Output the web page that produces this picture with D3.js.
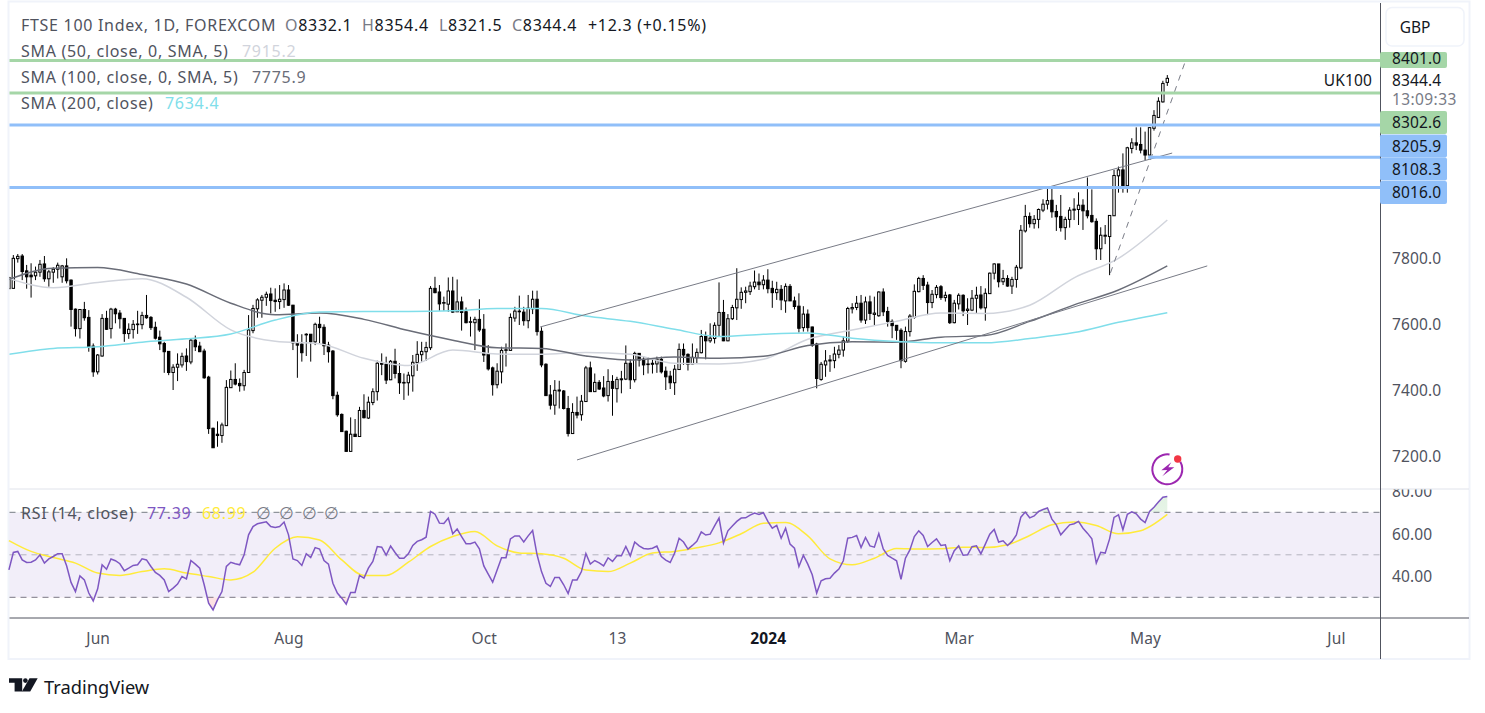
<!DOCTYPE html>
<html>
<head>
<meta charset="utf-8">
<script src="https://cdn.jsdelivr.net/npm/d3@7"></script>
<style>
  html, body { margin: 0; padding: 0; background: #fff; overflow: hidden; }
  svg { display: block; }
  text { font-family: "Noto Sans", sans-serif; }
  .legend { font-size: 16px; letter-spacing: 0.7px; }
  .axis-label { font-size: 15.5px; letter-spacing: 0.15px; }
</style>
</head>
<body>
<svg id="chart" width="1485" height="713"></svg>
<script>
// Daily candles, first one is cut by the left edge of the pane
const opens = [7707,
  7708,7798,7806,7761,7748,7746,7757,7782,7737,7757,7766,7743,7776,7733,7645,7586,7644,7620,7533,7455,
  7503,7617,7586,7645,7633,7617,7571,7583,7598,7598,7626,7620,7590,7560,7541,7517,7453,7469,7476,7503,
  7485,7551,7533,7518,7439,7284,7266,7262,7292,7407,7432,7420,7413,7453,7580,7646,7672,7681,7691,7672,
  7668,7674,7703,7657,7544,7539,7567,7569,7546,7599,7590,7536,7518,7384,7326,7275,7214,7266,7259,7338,
  7315,7362,7395,7481,7478,7431,7487,7450,
  7421,7422,7443,7483,7507,7516,7528,7708,7697,7663,7660,7700,7637,7667,7637,7605,7604,7614,7584,7508,
  7467,7416,7455,7520,7520,7618,7637,7636,7610,7646,7675,7578,7478,7385,7354,7397,7397,7344,7268,7332,
  7325,7365,7467,7395,7423,7406,7383,7426,7404,7431,7433,7481,7431,7511,7493,7477,7481,7479,7493,7457,
  7442,7422,7462,7523,7508,7479,7498,7513,7563,7549,7556,7596,7635,7549,7616,7649,7674,7696,7698,7713,
  7727,7719,7733,7708,7695,7705,7670,7714,7670,7654,
  7589,7630,7591,7539,7432,7476,7488,7489,7508,7521,7548,7646,7650,7663,7612,7667,7629,7625,7697,7638,
  7608,7596,7581,7487,7577,7620,7698,7738,7718,7665,7689,7713,7680,7688,7604,7661,7687,7641,7642,7678,
  7688,7649,7692,7754,7782,7728,7738,7715,7735,7770,7882,7926,7904,7917,7945,7963,7975,7941,7926,7892,
  7917,7945,7947,7960,7943,7929,7911,7828,7866,7865,
  7928,8049,8067,8019,8132,8149,8144,8127,8112,8193,8226,8273,8332.1];
const highs = [7743,
  7809,7812,7812,7779,7784,7774,7794,7806,7764,7772,7786,7779,7799,7735,7647,7645,7667,7642,7541,7509,
  7630,7640,7649,7649,7642,7618,7602,7612,7640,7637,7688,7624,7607,7580,7546,7518,7478,7511,7513,7526,
  7557,7565,7546,7525,7443,7286,7305,7301,7430,7459,7481,7435,7461,7627,7658,7678,7688,7698,7710,7708,
  7718,7723,7718,7658,7569,7569,7572,7569,7604,7622,7599,7546,7521,7395,7329,7277,7317,7312,7349,7387,
  7380,7405,7489,7511,7501,7491,7525,7481,
  7450,7455,7506,7548,7546,7546,7715,7743,7718,7683,7741,7743,7735,7683,7650,7622,7622,7675,7630,7536,
  7471,7481,7531,7541,7632,7652,7686,7652,7688,7701,7701,7590,7481,7415,7430,7428,7400,7382,7360,7380,
  7385,7473,7486,7450,7430,7442,7463,7445,7440,7458,7535,7493,7516,7511,7503,7499,7496,7501,7501,7471,
  7458,7476,7541,7541,7511,7541,7526,7582,7577,7602,7605,7726,7673,7630,7658,7769,7711,7713,7728,7762,
  7753,7748,7766,7731,7728,7718,7723,7721,7683,7693,
  7654,7644,7592,7543,7485,7521,7506,7531,7536,7562,7652,7663,7685,7688,7683,7686,7683,7699,7708,7652,
  7614,7597,7587,7592,7630,7720,7743,7748,7728,7703,7718,7718,7698,7691,7673,7693,7690,7678,7703,7713,
  7715,7708,7756,7784,7782,7764,7748,7743,7779,7900,7961,7938,7930,7950,7978,8011,8009,7961,7991,7925,
  7954,7981,7999,7978,8044,8008,7920,7893,7900,7930,
  8067,8077,8117,8137,8163,8196,8196,8183,8196,8248,8287,8337,8354.4];
const lows = [7707,
  7708,7786,7733,7707,7680,7733,7743,7728,7713,7725,7738,7725,7723,7592,7562,7556,7610,7516,7440,7447,
  7501,7582,7556,7602,7586,7546,7555,7556,7570,7584,7616,7582,7553,7521,7452,7445,7400,7427,7468,7458,
  7478,7518,7515,7434,7267,7225,7228,7240,7291,7407,7414,7395,7398,7453,7572,7619,7619,7655,7632,7637,
  7645,7649,7655,7521,7437,7486,7503,7486,7536,7541,7506,7483,7372,7319,7273,7213,7213,7259,7259,7314,
  7312,7354,7368,7445,7418,7430,7435,7388,
  7370,7383,7395,7458,7486,7488,7521,7693,7640,7640,7637,7634,7637,7580,7602,7562,7521,7576,7485,7459,
  7383,7405,7420,7471,7520,7607,7597,7595,7587,7630,7565,7469,7383,7341,7325,7344,7341,7259,7267,7314,
  7307,7365,7394,7394,7400,7378,7365,7322,7362,7390,7430,7403,7423,7471,7445,7450,7450,7452,7450,7400,
  7403,7385,7461,7476,7459,7478,7481,7511,7493,7543,7541,7562,7548,7548,7612,7612,7646,7663,7688,7705,
  7703,7705,7693,7649,7673,7642,7634,7670,7644,7574,
  7577,7577,7531,7405,7428,7440,7455,7466,7496,7501,7543,7632,7642,7604,7600,7612,7597,7622,7624,7592,
  7557,7552,7466,7483,7562,7616,7696,7703,7627,7648,7678,7673,7668,7600,7602,7644,7624,7597,7639,7632,
  7644,7610,7692,7735,7711,7718,7713,7691,7710,7766,7877,7892,7889,7890,7939,7947,7922,7882,7880,7855,
  7892,7915,7900,7885,7920,7907,7794,7794,7842,7748,
  7928,7998,7998,7998,8117,8127,8117,8097,8112,8186,8224,8271,8321.5];
const closes = [7741,
  7799,7805,7759,7743,7743,7757,7781,7737,7758,7766,7778,7776,7731,7644,7586,7644,7619,7531,7455,7506,
  7617,7584,7645,7631,7616,7571,7584,7599,7600,7626,7619,7589,7557,7540,7516,7453,7469,7478,7502,7486,
  7551,7531,7516,7437,7283,7225,7262,7294,7408,7432,7418,7413,7453,7582,7647,7673,7681,7690,7671,7668,
  7675,7703,7657,7543,7536,7513,7569,7546,7599,7589,7534,7516,7383,7325,7274,7214,7266,7259,7338,7316,
  7363,7395,7481,7478,7430,7487,7450,7422,
  7423,7445,7484,7508,7517,7529,7708,7695,7661,7665,7700,7636,7667,7635,7604,7607,7614,7582,7506,7464,
  7416,7457,7520,7522,7620,7639,7639,7610,7648,7675,7577,7476,7383,7354,7399,7400,7344,7268,7332,7324,
  7366,7467,7395,7423,7403,7382,7426,7405,7432,7434,7481,7431,7511,7491,7476,7479,7478,7493,7455,7440,
  7422,7463,7523,7506,7478,7499,7514,7562,7549,7557,7596,7635,7549,7616,7650,7675,7696,7700,7715,7727,
  7719,7733,7707,7695,7705,7673,7714,7670,7653,7587,
  7630,7589,7536,7435,7478,7488,7491,7509,7521,7549,7647,7650,7663,7612,7667,7632,7633,7697,7637,7608,
  7595,7581,7489,7577,7624,7699,7738,7717,7665,7690,7711,7680,7687,7604,7663,7687,7640,7645,7678,7687,
  7649,7693,7754,7782,7728,7738,7715,7735,7772,7884,7926,7904,7917,7947,7963,7974,7940,7925,7892,7917,
  7945,7948,7960,7943,7928,7910,7828,7869,7869,7929,
  8050,8067,8019,8134,8149,8142,8127,8112,8195,8232,8275,8329,8344.4];

// Moving averages, read every 10 bars
const smaBars = [0,10,20,30,40,50,60,70,80,90,100,110,120,130,140,150,160,170,180,190,200,210,220,230,240,250,261];
const sma50 = [7738,7710,7726,7737,7681,7582,7548,7540,7496,7474,7521,7509,7508,7514,7508,7481,7479,7493,7554,7582,7608,7633,7632,7657,7740,7799,7915.2];
const sma100 = [7735,7769,7771,7750,7721,7663,7628,7633,7614,7580,7551,7528,7526,7503,7491,7500,7496,7502,7535,7546,7545,7560,7565,7608,7658,7703,7775.9];
const sma200 = [7508,7526,7531,7545,7555,7570,7612,7636,7638,7638,7640,7647,7647,7624,7608,7584,7562,7569,7573,7557,7547,7543,7543,7556,7574,7605,7634.4];

// RSI, one value per bar
const rsiValues = [
  42.9,51.1,51.6,47.6,46.4,46.5,47.6,50.0,46.1,48.1,49.2,50.5,50.5,44.8,37.0,32.7,40.1,38.2,32.0,28.3,
  34.0,45.3,43.2,48.0,47.2,45.8,42.5,43.7,45.0,45.3,48.1,47.6,44.5,41.7,40.3,38.2,32.7,34.3,36.2,39.8,
  38.7,47.3,45.6,43.7,35.9,27.2,24.1,28.8,32.7,44.5,46.5,45.8,45.3,50.0,59.4,63.3,64.6,65.1,65.5,63.3,
  62.9,63.3,65.4,59.4,48.0,47.3,45.0,50.5,48.7,53.4,52.7,47.3,45.6,36.6,32.0,29.6,26.8,32.3,32.3,40.3,
  39.0,43.7,46.9,53.9,53.6,49.8,54.1,51.1,48.4,
  48.4,50.5,54.4,56.3,57.1,58.3,70.4,69.1,64.9,64.7,67.3,59.9,62.1,58.6,55.2,55.2,56.0,52.8,44.8,40.9,
  37.1,42.9,48.6,48.6,57.5,58.9,58.9,56.0,58.9,61.4,50.0,42.1,36.6,35.1,39.3,39.3,35.9,31.8,38.2,38.2,
  42.1,50.6,45.6,47.3,46.2,44.8,48.6,46.9,49.5,49.5,53.9,49.5,56.0,54.2,53.0,52.7,53.1,54.1,49.2,47.5,
  46.4,50.8,57.8,56.0,52.7,54.4,56.3,60.8,59.3,59.7,63.6,67.3,55.5,61.3,63.6,65.7,67.3,67.4,68.7,69.6,
  69.0,69.8,65.7,62.5,63.8,57.8,62.5,55.0,53.1,44.5,
  49.8,45.6,40.6,32.0,37.8,38.7,39.0,41.4,43.3,47.2,57.8,58.2,59.1,53.4,58.2,54.2,53.6,60.0,52.8,49.7,
  48.4,47.2,38.5,48.4,52.3,58.6,61.3,59.1,53.9,55.8,57.5,54.4,54.7,47.2,51.9,54.2,49.8,50.0,53.8,54.2,
  50.5,55.0,59.7,61.9,56.0,56.6,54.4,56.3,59.4,67.7,70.1,67.4,68.3,70.4,71.3,72.0,66.8,64.1,59.4,61.8,
  64.1,64.6,65.7,62.5,60.2,57.5,46.1,51.2,50.8,57.5,67.6,68.8,61.8,69.1,70.2,69.3,66.8,65.2,70.4,72.4,
  74.8,77.1,77.39];

// RSI moving average, read every 5 bars
const rsiMaBars = [0,5,10,15,20,25,30,35,40,45,50,55,60,65,70,75,80,85,90,95,100,105,110,115,120,125,130,135,140,145,150,155,160,165,170,175,180,185,190,195,200,205,210,215,220,225,230,235,240,245,250,255,261];
const rsiMa = [56.7,51.6,48.7,46.1,41.4,40.3,42.1,43.4,41.4,39.8,38.2,41.8,53.1,58.5,57.0,47.6,40.3,40.3,46.5,53.9,58.6,61.0,54.2,50.9,50.5,48.4,42.8,42.1,46.1,50.8,51.6,53.3,55.6,59.9,64.9,65.2,58.9,48.1,45.3,48.4,53.0,52.7,52.8,53.6,53.4,54.7,59.1,64.1,65.4,63.8,59.9,61.3,68.99];

// Horizontal levels drawn on the chart
const levelPrices = [8401.0, 8302.6, 8205.9, 8108.3, 8016.0];
const levelStartBars = [-2, -2, -2, 256.7, -2];
const levelColors = ['#a5d6a7', '#a5d6a7', '#90bff9', '#90bff9', '#90bff9'];
const levelLabelY = [59.7, 122.5, 146, 169, 192.5];

// Trend lines as [bar, price] ends
const channelTop = [[119.7, 7591], [262.1, 8118]];
const channelBottom = [[128, 7188], [270, 7776]];
const dashedTrend = [[248.2, 7755], [264.9, 8390]];

const priceTicks = [7200, 7400, 7600, 7800];
const rsiTicks = [40, 60, 80];
const timeTickBars = [20, 63, 107, 137, 171, 214, 256, 299];
const timeTickLabels = ['Jun', 'Aug', 'Oct', '13', '2024', 'Mar', 'May', 'Jul'];

const headerParts = [
  { x: 21, text: 'FTSE 100 Index, 1D, FOREXCOM', fill: '#50535e' },
  { x: 285, label: 'O', value: '8332.1' },
  { x: 362, label: 'H', value: '8354.4' },
  { x: 439, label: 'L', value: '8321.5' },
  { x: 512, label: 'C', value: '8344.4' },
  { x: 588, text: '+12.3 (+0.15%)', fill: '#131722' }
];
const smaLegend = [
  { y: 51, label: 'SMA (50, close, 0, SMA, 5)', value: '7915.2', vx: 242, color: '#d1d4dc' },
  { y: 77, label: 'SMA (100, close, 0, SMA, 5)', value: '7775.9', vx: 252, color: '#6a6d78' },
  { y: 103, label: 'SMA (200, close)', value: '7634.4', vx: 165, color: '#80deea' }
];

const paneLeft = 9.5, paneRight = 1380, mainTop = 3, mainBottom = 489, rsiBottom = 618, frameBottom = 659;
const textColor = '#50535e';

const svg = d3.select('#chart');
const xBar = d3.scaleLinear().domain([0, 261]).range([8.9, 1167.3]);
const yPrice = d3.scaleLinear().domain([7200, 7800]).range([456, 258]);
// axis and level lines sit a little under the candle scale in the screenshot
const yLevel = d3.scaleLinear().domain([7200, 7800]).range([456.9, 258.9]);
const yRsi = d3.scaleLinear().domain([30, 70]).range([597.3, 512.3]);

const defs = svg.append('defs');
defs.append('clipPath').attr('id', 'mainClip').append('rect')
  .attr('x', paneLeft).attr('y', mainTop).attr('width', paneRight - paneLeft).attr('height', mainBottom - mainTop);
defs.append('clipPath').attr('id', 'rsiAxisClip').append('rect')
  .attr('x', paneRight).attr('y', mainBottom + 0.5).attr('width', 90).attr('height', rsiBottom - mainBottom);
defs.append('clipPath').attr('id', 'aboveClip').append('rect')
  .attr('x', paneLeft).attr('y', mainBottom).attr('width', paneRight - paneLeft).attr('height', yRsi(70) - mainBottom);
defs.append('clipPath').attr('id', 'belowClip').append('rect')
  .attr('x', paneLeft).attr('y', yRsi(30)).attr('width', paneRight - paneLeft).attr('height', rsiBottom - yRsi(30));
const upGrad = defs.append('linearGradient').attr('id', 'obFill').attr('x1', 0).attr('x2', 0).attr('y1', 0).attr('y2', 1);
upGrad.append('stop').attr('offset', 0).attr('stop-color', '#4caf50').attr('stop-opacity', 0.16);
upGrad.append('stop').attr('offset', 1).attr('stop-color', '#4caf50').attr('stop-opacity', 0);
const downGrad = defs.append('linearGradient').attr('id', 'osFill').attr('x1', 0).attr('x2', 0).attr('y1', 0).attr('y2', 1);
downGrad.append('stop').attr('offset', 0).attr('stop-color', '#f23645').attr('stop-opacity', 0);
downGrad.append('stop').attr('offset', 1).attr('stop-color', '#f23645').attr('stop-opacity', 0.16);

// Frame around the widget
svg.append('rect').attr('x', 8.5).attr('y', 1.5).attr('width', 1461).attr('height', 657.5)
  .attr('fill', '#fff').attr('stroke', '#f0f3fa').attr('stroke-width', 2);

// Candles
const main = svg.append('g').attr('clip-path', 'url(#mainClip)');
const bars = d3.range(opens.length);
main.append('g').selectAll('line').data(bars).join('line')
  .attr('x1', i => xBar(i)).attr('x2', i => xBar(i))
  .attr('y1', i => yPrice(highs[i])).attr('y2', i => yPrice(lows[i]))
  .attr('stroke', '#000').attr('stroke-width', 1);
main.append('g').selectAll('rect').data(bars).join('rect')
  .attr('x', i => xBar(i) - 1.2).attr('width', 2.4)
  .attr('y', i => yPrice(Math.max(opens[i], closes[i])))
  .attr('height', i => Math.max(0.5, Math.abs(yPrice(opens[i]) - yPrice(closes[i]))))
  .attr('fill', i => closes[i] >= opens[i] ? '#fff' : '#000')
  .attr('stroke', '#000').attr('stroke-width', 1);

// Moving averages
const smaLine = values => d3.line()
  .x((d, i) => xBar(smaBars[i]))
  .y((d, i) => yPrice(values[i]))
  .curve(d3.curveMonotoneX)(values);
[[sma50, '#d1d4dc'], [sma100, '#6a6d78'], [sma200, '#80deea']].forEach(([values, color]) => {
  main.append('path').attr('d', smaLine(values)).attr('fill', 'none')
    .attr('stroke', color).attr('stroke-width', 1.5);
});

// Trend lines
const trendLine = d3.line().x(d => xBar(d[0])).y(d => yPrice(d[1]));
[channelTop, channelBottom].forEach(ends => {
  main.append('path').attr('d', trendLine(ends)).attr('fill', 'none')
    .attr('stroke', '#787b86').attr('stroke-width', 1);
});
main.append('path').attr('d', trendLine(dashedTrend)).attr('fill', 'none')
  .attr('stroke', '#787b86').attr('stroke-width', 1).attr('stroke-dasharray', '6,6');

// Levels on top of everything
main.append('g').selectAll('line').data(levelPrices).join('line')
  .attr('x1', (d, i) => xBar(levelStartBars[i])).attr('x2', paneRight)
  .attr('y1', d => yLevel(d)).attr('y2', d => yLevel(d))
  .attr('stroke', (d, i) => levelColors[i]).attr('stroke-width', 3);

// RSI pane
svg.append('rect').attr('x', paneLeft).attr('width', paneRight - paneLeft)
  .attr('y', yRsi(70)).attr('height', yRsi(30) - yRsi(70)).attr('fill', '#7e57c2').attr('opacity', 0.1);
[[30, 1], [50, 0.5], [70, 1]].forEach(([level, alpha]) => {
  svg.append('line').attr('x1', paneLeft).attr('x2', paneRight)
    .attr('y1', yRsi(level)).attr('y2', yRsi(level))
    .attr('stroke', '#787b86').attr('stroke-opacity', alpha).attr('stroke-dasharray', '6,5');
});
const rsiArea = d3.area().x((d, i) => xBar(i)).y1(d => yRsi(d));
svg.append('path').attr('clip-path', 'url(#aboveClip)').attr('fill', 'url(#obFill)')
  .attr('d', rsiArea.y0(yRsi(70))(rsiValues));
svg.append('path').attr('clip-path', 'url(#belowClip)').attr('fill', 'url(#osFill)')
  .attr('d', rsiArea.y0(yRsi(30))(rsiValues));
svg.append('path').attr('fill', 'none').attr('stroke', '#ffeb3b').attr('stroke-width', 1.5)
  .attr('d', d3.line().x((d, i) => xBar(rsiMaBars[i])).y(d => yRsi(d)).curve(d3.curveMonotoneX)(rsiMa));
svg.append('path').attr('fill', 'none').attr('stroke', '#7e57c2').attr('stroke-width', 1.5)
  .attr('d', d3.line().x((d, i) => xBar(i)).y(d => yRsi(d))(rsiValues));

// Pane separators and axis lines
svg.append('line').attr('x1', paneLeft).attr('x2', 1469).attr('y1', mainBottom).attr('y2', mainBottom)
  .attr('stroke', '#e0e3eb').attr('stroke-width', 1);
svg.append('line').attr('x1', paneLeft).attr('x2', 1469).attr('y1', rsiBottom).attr('y2', rsiBottom)
  .attr('stroke', '#50535e').attr('stroke-width', 1);
svg.append('line').attr('x1', paneRight + 0.5).attr('x2', paneRight + 0.5).attr('y1', mainTop).attr('y2', frameBottom)
  .attr('stroke', '#50535e').attr('stroke-width', 1);

// Axes
const styleAxis = g => {
  g.select('.domain').remove();
  g.selectAll('text').attr('fill', textColor).style('font-family', '"Noto Sans", sans-serif')
    .style('font-size', '15.5px').style('letter-spacing', '0.15px');
};
svg.append('g').attr('transform', `translate(${paneRight + 1},0)`)
  .call(d3.axisRight(yLevel).tickValues(priceTicks).tickSize(0).tickPadding(11).tickFormat(d3.format('.1f')))
  .call(styleAxis);
svg.append('g').attr('clip-path', 'url(#rsiAxisClip)')
  .append('g').attr('transform', `translate(${paneRight + 1},0.7)`)
  .call(d3.axisRight(yRsi).tickValues(rsiTicks).tickSize(0).tickPadding(11).tickFormat(d3.format('.2f')))
  .call(styleAxis);
svg.append('g').attr('transform', 'translate(0,632.5)')
  .call(d3.axisBottom(xBar).tickValues(timeTickBars).tickSize(0).tickPadding(0)
    .tickFormat(d => timeTickLabels[timeTickBars.indexOf(d)]))
  .call(styleAxis)
  .call(g => g.selectAll('.tick').filter(d => timeTickLabels[timeTickBars.indexOf(d)] === '2024')
    .select('text').attr('font-weight', 700).attr('fill', '#131722'));

// Price labels on the axis
levelPrices.forEach((price, i) => {
  const yMid = levelLabelY[i];
  const box = svg.append('rect').attr('x', paneRight).attr('y', yMid - 11.5).attr('width', 67).attr('height', 23)
    .attr('rx', 2).attr('fill', levelColors[i]);
  if (i === 0) box.attr('y', 52).attr('height', 16);
  svg.append('text').attr('class', 'axis-label').attr('x', paneRight + 12).attr('y', i === 0 ? 58 : yMid).attr('dy', '0.36em')
    .attr('fill', '#131722').text(d3.format('.1f')(price));
});
svg.append('text').attr('class', 'axis-label').attr('x', paneRight + 12).attr('y', 80).attr('dy', '0.36em')
  .attr('fill', '#131722').text(d3.format('.1f')(closes[closes.length - 1]));
svg.append('text').attr('class', 'axis-label').attr('x', paneRight + 12).attr('y', 99.5).attr('dy', '0.36em')
  .attr('fill', '#787b86').style('letter-spacing', '0.4px').text('13:09:33');
svg.append('text').attr('class', 'axis-label').attr('x', 1372).attr('y', 80).attr('dy', '0.36em').attr('text-anchor', 'end')
  .attr('fill', '#131722').text('UK100');

// Currency button
svg.append('rect').attr('x', 1386).attr('y', 7.5).attr('width', 78).attr('height', 38.5).attr('rx', 6)
  .attr('fill', '#fff').attr('stroke', '#f0f3fa').attr('stroke-width', 1.5);
svg.append('text').attr('x', 1415).attr('y', 27).attr('dy', '0.36em').attr('text-anchor', 'middle')
  .attr('font-size', 15.5).attr('fill', '#131722').text('GBP');

// Legends
headerParts.forEach(part => {
  const t = svg.append('text').attr('class', 'legend').attr('x', part.x).attr('y', 25).attr('dy', '0.36em');
  if (part.text) {
    t.attr('fill', part.fill).text(part.text);
  } else {
    t.append('tspan').attr('fill', '#787b86').text(part.label);
    t.append('tspan').attr('fill', '#131722').text(part.value);
  }
});
smaLegend.forEach(row => {
  svg.append('text').attr('class', 'legend').attr('x', 21).attr('y', row.y).attr('dy', '0.36em')
    .attr('fill', textColor).text(row.label);
  svg.append('text').attr('class', 'legend').attr('x', row.vx).attr('y', row.y).attr('dy', '0.36em')
    .attr('fill', row.color).text(row.value);
});
const rsiLegendY = 513;
svg.append('text').attr('class', 'legend').attr('x', 21).attr('y', rsiLegendY).attr('dy', '0.36em')
  .attr('fill', textColor).text('RSI (14, close)');
svg.append('text').attr('class', 'legend').attr('x', 147).attr('y', rsiLegendY).attr('dy', '0.36em')
  .attr('fill', '#7e57c2').text(d3.format('.2f')(rsiValues[rsiValues.length - 1]));
svg.append('text').attr('class', 'legend').attr('x', 202).attr('y', rsiLegendY).attr('dy', '0.36em')
  .attr('fill', '#ffeb3b').text(d3.format('.2f')(rsiMa[rsiMa.length - 1]));
[263, 286, 309, 331].forEach(x => {
  svg.append('text').attr('x', x).attr('y', rsiLegendY).attr('dy', '0.36em').attr('text-anchor', 'middle')
    .attr('font-size', 16.5).attr('fill', '#787b86').text('∅');
});

// Alert icon over the last bar
const icon = svg.append('g').attr('transform', 'translate(1167.3,469.3)');
icon.append('path').attr('fill', '#9c27b0')
  .attr('d', d3.arc().innerRadius(14).outerRadius(16).startAngle(1.05).endAngle(Math.PI * 2 + 0.15)());
icon.append('path').attr('fill', '#9c27b0').attr('d', 'M4,-7 L-6,1 L0,0.8 L-5,7 L7,-2 L1,-2 Z');
icon.append('circle').attr('cx', 10.4).attr('cy', -10.3).attr('r', 3.7).attr('fill', '#f23645');

// TradingView logo
const logo = svg.append('g').attr('fill', '#131722').attr('transform', 'translate(9,678.3)');
logo.append('path').attr('d', 'M0,0 H13.2 V13.3 H5.6 V4.4 H0 Z');
logo.append('circle').attr('cx', 16.4).attr('cy', 2.3).attr('r', 2.3);
logo.append('path').attr('d', 'M20.5,0 H28.7 L21.2,13.3 H12.9 Z');
svg.append('text').attr('x', 44).attr('y', 687).attr('dy', '0.36em')
  .attr('font-size', 18.3).attr('fill', '#131722').text('TradingView');
</script>
</body>
</html>
